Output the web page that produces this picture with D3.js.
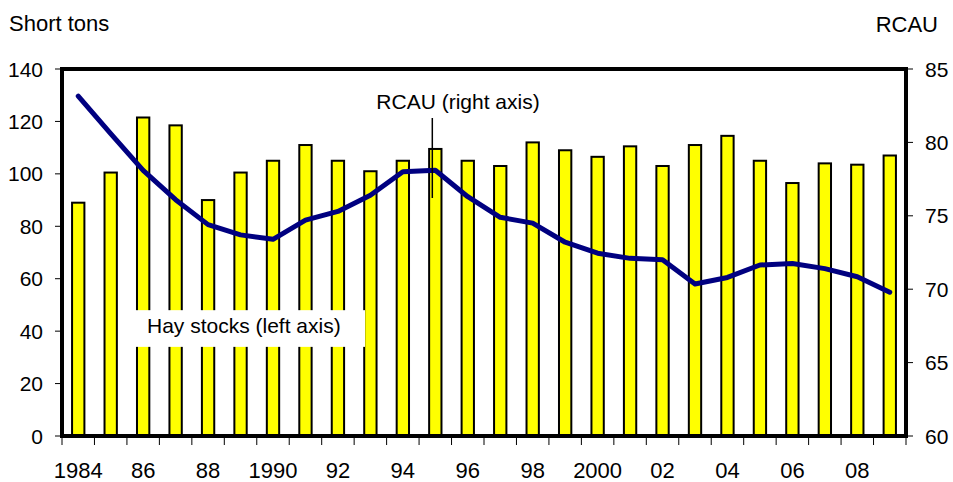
<!DOCTYPE html>
<html lang="en">
<head>
    <meta charset="UTF-8">
    <title>Hay stocks and RCAU</title>
    <script src="https://d3js.org/d3.v7.min.js"></script>
    <style>
        body { margin: 0; background: #fff; }
        text { font-family: "Liberation Sans", Arial, sans-serif; fill: #000; }
    </style>
</head>
<body>
    <div id="my_dataviz"></div>

    <script>
        // data
        var years = d3.range(1984, 2010);
        var hayStocks = [89, 100.5, 121.5, 118.5, 90, 100.5, 105, 111, 105, 101, 105, 109.5, 105,
                         103, 112, 109, 106.5, 110.5, 103, 111, 114.5, 105, 96.5, 104, 103.5, 107];
        var rcau = [83.15, 80.6, 78.1, 76.1, 74.4, 73.7, 73.4, 74.7, 75.3, 76.4, 78.0, 78.1, 76.3,
                    74.9, 74.5, 73.2, 72.45, 72.1, 72.0, 70.35, 70.8, 71.65, 71.75, 71.4, 70.85, 69.8];
        var xTickLabels = {1984: "1984", 1986: "86", 1988: "88", 1990: "1990", 1992: "92", 1994: "94",
                           1996: "96", 1998: "98", 2000: "2000", 2002: "02", 2004: "04", 2006: "06", 2008: "08"};
        var leftTicks = [0, 20, 40, 60, 80, 100, 120, 140];
        var rightTicks = [60, 65, 70, 75, 80, 85];

        var margin = {top: 69, right: 47, bottom: 46, left: 62};
        var width = 953 - margin.left - margin.right;
        var height = 482 - margin.top - margin.bottom;

        const root = d3.select("#my_dataviz")
            .append("svg")
            .attr("width", 953)
            .attr("height", 482);

        const svg = root.append("g")
            .attr("transform", `translate(${margin.left},${margin.top})`);

        const x = d3.scaleBand()
            .domain(years)
            .range([0, width])
            .padding(0);

        const yL = d3.scaleLinear().domain([0, 140]).range([height, 0]);
        const yR = d3.scaleLinear().domain([60, 85]).range([height, 0]);

        var barW = x.bandwidth() * 0.38;

        // bars
        svg.selectAll("rect.bar")
            .data(years)
            .join("rect")
            .attr("class", "bar")
            .attr("x", function(d) { return x(d) + (x.bandwidth() - barW) / 2; })
            .attr("y", function(d, i) { return yL(hayStocks[i]); })
            .attr("width", barW)
            .attr("height", function(d, i) { return height - yL(hayStocks[i]); })
            .attr("fill", "#ffff00")
            .attr("stroke", "#000")
            .attr("stroke-width", 2);

        // label box for hay stocks (covers the bars behind it)
        svg.append("rect")
            .attr("x", 135 - margin.left)
            .attr("y", yL(48))
            .attr("width", 230)
            .attr("height", yL(34) - yL(48))
            .attr("fill", "#fff");
        svg.append("text")
            .attr("x", 147 - margin.left)
            .attr("y", 333 - margin.top)
            .style("font-size", "21px")
            .text("Hay stocks (left axis)");

        // RCAU line
        svg.append("path")
            .datum(years)
            .attr("fill", "none")
            .attr("stroke", "#000080")
            .attr("stroke-width", 5)
            .attr("stroke-linejoin", "round")
            .attr("stroke-linecap", "round")
            .attr("d", d3.line()
                .x(function(d) { return x(d) + x.bandwidth() / 2; })
                .y(function(d, i) { return yR(rcau[i]); }));

        // RCAU annotation
        var lx = x(1995) + x.bandwidth() / 2 - 3;
        svg.append("line")
            .attr("x1", lx).attr("x2", lx)
            .attr("y1", 118 - margin.top).attr("y2", 198 - margin.top)
            .attr("stroke", "#000")
            .attr("stroke-width", 1.5);
        svg.append("text")
            .attr("x", 458 - margin.left)
            .attr("y", 109 - margin.top)
            .attr("text-anchor", "middle")
            .style("font-size", "21px")
            .text("RCAU (right axis)");

        // left axis
        const gl = svg.append("g");
        gl.selectAll("line.tick")
            .data(leftTicks)
            .join("line")
            .attr("x1", -7).attr("x2", 0)
            .attr("y1", function(d) { return yL(d); })
            .attr("y2", function(d) { return yL(d); })
            .attr("stroke", "#000").attr("stroke-width", 1);
        gl.selectAll("text")
            .data(leftTicks)
            .join("text")
            .attr("x", -19)
            .attr("y", function(d) { return yL(d); })
            .attr("dy", "0.36em")
            .attr("text-anchor", "end")
            .style("font-size", "21px")
            .text(function(d) { return d; });

        // right axis
        const gr = svg.append("g").attr("transform", `translate(${width},0)`);
        gr.selectAll("line.tick")
            .data(rightTicks)
            .join("line")
            .attr("x1", 0).attr("x2", 7)
            .attr("y1", function(d) { return yR(d); })
            .attr("y2", function(d) { return yR(d); })
            .attr("stroke", "#000").attr("stroke-width", 1);
        gr.selectAll("text")
            .data(rightTicks)
            .join("text")
            .attr("x", 19)
            .attr("y", function(d) { return yR(d); })
            .attr("dy", "0.36em")
            .style("font-size", "21px")
            .text(function(d) { return d; });

        // bottom ticks at band boundaries
        var bounds = years.map(function(d) { return x(d); }).concat([width]);
        svg.append("g")
            .selectAll("line")
            .data(bounds)
            .join("line")
            .attr("x1", function(d) { return d; })
            .attr("x2", function(d) { return d; })
            .attr("y1", height)
            .attr("y2", height + 9)
            .attr("stroke", "#000").attr("stroke-width", 1);
        svg.append("g")
            .selectAll("text")
            .data(years.filter(function(d) { return xTickLabels[d]; }))
            .join("text")
            .attr("x", function(d) { return x(d) + x.bandwidth() / 2; })
            .attr("y", 478 - margin.top)
            .attr("text-anchor", "middle")
            .style("font-size", "22px")
            .text(function(d) { return xTickLabels[d]; });

        // frame
        svg.append("rect")
            .attr("x", 0).attr("y", 0)
            .attr("width", width).attr("height", height)
            .attr("fill", "none")
            .attr("stroke", "#000")
            .attr("stroke-width", 4);

        // axis titles
        root.append("text")
            .attr("x", 9)
            .attr("y", 31)
            .style("font-size", "22px")
            .text("Short tons");
        root.append("text")
            .attr("x", 938)
            .attr("y", 32)
            .attr("text-anchor", "end")
            .style("font-size", "22px")
            .text("RCAU");
    </script>
</body>
</html>
